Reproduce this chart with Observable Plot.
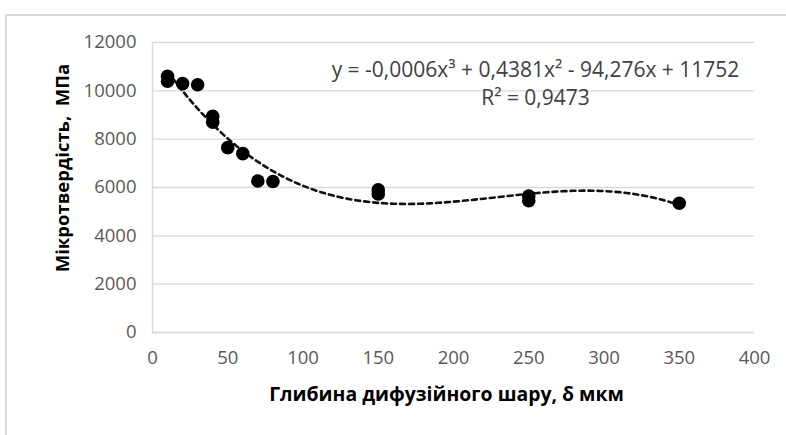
<!DOCTYPE html>
<html>
<head>
<meta charset="utf-8">
<script src="https://cdn.jsdelivr.net/npm/d3@7"></script>
<script src="https://cdn.jsdelivr.net/npm/@observablehq/plot@0.6"></script>
<style>
  body { margin: 0; background: #fff; }
  #wrap { position: relative; width: 786px; height: 435px; overflow: hidden; }
  #frame { position: absolute; left: 5px; top: 14px; right: -10px; bottom: -10px;
           border-top: 2px solid #d9d9d9; border-left: 2px solid #d9d9d9; pointer-events: none; }
</style>
</head>
<body>
<div id="wrap"><div id="frame"></div></div>
<script>
// Depth of diffusion layer, µm
const depth = [10, 10, 20, 30, 40, 40, 50, 60, 70, 80, 150, 150, 250, 250, 350];
// Microhardness, MPa
const hardness = [10600, 10400, 10300, 10250, 8950, 8700, 7650, 7400, 6270, 6250, 5900, 5730, 5650, 5450, 5350];
const xTicks = [0, 50, 100, 150, 200, 250, 300, 350, 400];
const yTicks = [0, 2000, 4000, 6000, 8000, 10000, 12000];
const xTitle = "Глибина дифузійного шару, δ мкм";
const yTitle = "Мікротвердість,  МПа";
const eqLine1 = "y = -0,0006x³ + 0,4381x² - 94,276x + 11752";
const eqLine2 = "R² = 0,9473";

const points = depth.map((d, i) => ({x: d, y: hardness[i]}));

// Cubic least-squares trend line fitted to the points (like the spreadsheet trendline)
function fitCubic(xs, ys) {
  const n = 4, s = 100;
  const A = Array.from({length: n}, () => new Array(n + 1).fill(0));
  xs.forEach((x0, k) => {
    const x = x0 / s;
    const p = [1, x, x * x, x * x * x];
    for (let i = 0; i < n; i++) {
      for (let j = 0; j < n; j++) A[i][j] += p[i] * p[j];
      A[i][n] += p[i] * ys[k];
    }
  });
  for (let c = 0; c < n; c++) {
    let piv = c;
    for (let r = c + 1; r < n; r++) if (Math.abs(A[r][c]) > Math.abs(A[piv][c])) piv = r;
    [A[c], A[piv]] = [A[piv], A[c]];
    for (let r = 0; r < n; r++) {
      if (r === c) continue;
      const f = A[r][c] / A[c][c];
      for (let k = c; k <= n; k++) A[r][k] -= f * A[c][k];
    }
  }
  const b = A.map((row, i) => row[n] / row[i]);
  return x0 => { const x = x0 / s; return b[0] + b[1] * x + b[2] * x * x + b[3] * x * x * x; };
}
const f = fitCubic(depth, hardness);
const xMin = d3.min(depth), xMax = d3.max(depth);
const trend = d3.range(xMin, xMax + 0.001, 2).map(x => ({x, y: f(x)}));

const font = "'Open Sans', sans-serif";
const chart = Plot.plot({
  width: 786,
  height: 435,
  marginLeft: 152,
  marginRight: 32,
  marginTop: 42,
  marginBottom: 103,
  style: {fontFamily: font, fontSize: "18.5px", color: "#595959", background: "transparent"},
  x: {domain: [0, 400]},
  y: {domain: [0, 12000]},
  marks: [
    Plot.gridY(yTicks, {stroke: "#d9d9d9", strokeOpacity: 1, strokeWidth: 1.3}),
    Plot.ruleY([0], {stroke: "#d9d9d9", strokeWidth: 1.5}),
    Plot.ruleX([0], {stroke: "#d9d9d9", strokeWidth: 1.5}),
    Plot.axisY(yTicks, {tickSize: 0, tickPadding: 16, label: null, fill: "#595959", tickFormat: d => String(d)}),
    Plot.axisX(xTicks, {tickSize: 0, tickPadding: 18, label: null, fill: "#595959", tickFormat: d => String(d)}),
    Plot.line(trend, {x: "x", y: "y", stroke: "#111", strokeWidth: 2.6, strokeDasharray: "5,4", curve: "linear"}),
    Plot.dot(points, {x: "x", y: "y", r: 6.8, fill: "#000", stroke: "none"}),
    Plot.text([eqLine1], {frameAnchor: "top", dx: 82, dy: 20, text: d => d, fill: "#404040", fontSize: 21, fontFamily: font}),
    Plot.text([eqLine2], {frameAnchor: "top", dx: 82, dy: 48, text: d => d, fill: "#404040", fontSize: 21, fontFamily: font}),
    Plot.text([xTitle], {frameAnchor: "bottom", dx: -7, dy: 68, text: d => d, fill: "#000", fontSize: 19.4, fontWeight: "bold", fontFamily: font})
  ]
});
document.getElementById("wrap").prepend(chart);

// Rotated y-axis title
const svg = d3.select(chart.tagName.toLowerCase() === "svg" ? chart : chart.querySelector("svg"));
svg.append("text")
  .attr("transform", "translate(61,168) rotate(-90)")
  .attr("text-anchor", "middle")
  .attr("dominant-baseline", "central")
  .attr("font-family", font)
  .attr("font-size", 18.5)
  .attr("font-weight", "bold")
  .attr("fill", "#000")
  .text(yTitle);
</script>
</body>
</html>
